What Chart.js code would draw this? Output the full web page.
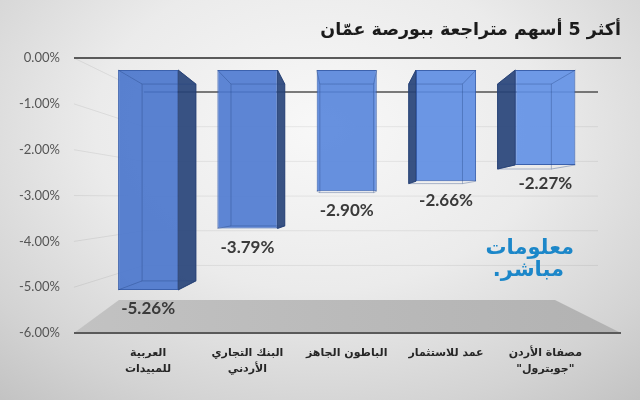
<!DOCTYPE html>
<html lang="ar">
<head>
<meta charset="utf-8">
<title>أكثر 5 أسهم متراجعة ببورصة عمّان</title>
<script src="https://cdn.jsdelivr.net/npm/chart.js@4.4.1/dist/chart.umd.min.js"></script>
<style>
    html, body { margin: 0; padding: 0; }
    body {
        width: 640px;
        height: 400px;
        overflow: hidden;
        position: relative;
        background: radial-gradient(ellipse 78% 90% at 50% 32%, #f8f8f8 0%, #ebebeb 45%, #d3d3d3 80%, #c2c2c2 100%);
    }
    #wrap { position: absolute; left: 0; top: 0; width: 640px; height: 400px; }
    .logo {
        position: absolute;
        color: #1c87c9;
        font-family: 'DejaVu Sans', sans-serif;
        font-weight: bold;
        font-size: 21px;
        direction: rtl;
        line-height: 1;
        white-space: nowrap;
    }
</style>
</head>
<body>
<div id="wrap"><canvas id="dropChart" width="640" height="400"></canvas></div>
<div class="logo" style="right: 66px; top: 237px;">معلومات</div>
<div class="logo" style="right: 76px; top: 259px;">مباشر.</div>

<script>
// ========================================
// DATA
// ========================================

const chartTitle = 'أكثر 5 أسهم متراجعة ببورصة عمّان';

const categories = [
    ['العربية', 'للمبيدات'],
    ['البنك التجاري', 'الأردني'],
    ['الباطون الجاهز'],
    ['عمد للاستثمار'],
    ['مصفاة الأردن', '"جوبترول"']
];

const changes = [-5.26, -3.79, -2.90, -2.66, -2.27];

const axisMin = -6;
const axisMax = 0;
const axisStep = 1;

// ========================================
// 3D LOOK (floor, back wall, bar sides)
// ========================================

const DEPTH = 0.895;          // how far the back face of a bar sits
const WALL_IN_LEFT = 70;
const WALL_IN_RIGHT = 23;
const FLOOR_IN_LEFT = 45;
const FLOOR_IN_RIGHT = 66;

function vanishing(chart) {
    return {
        x: chart.scales.x.getPixelForValue(2),
        y: chart.scales.yBar.getPixelForValue(-3.2)
    };
}

function back(p, v) {
    return { x: v.x + (p.x - v.x) * DEPTH, y: v.y + (p.y - v.y) * DEPTH };
}

function barBox(bar) {
    const half = bar.width / 2;
    return {
        l: bar.x - half,
        r: bar.x + half,
        t: Math.min(bar.y, bar.base),
        b: Math.max(bar.y, bar.base)
    };
}

function poly(ctx, pts) {
    ctx.beginPath();
    ctx.moveTo(pts[0].x, pts[0].y);
    for (let i = 1; i < pts.length; i++) ctx.lineTo(pts[i].x, pts[i].y);
    ctx.closePath();
}

const scenePlugin = {
    id: 'scene3d',
    beforeDraw(chart) {
        const { ctx, chartArea } = chart;
        const y = chart.scales.y;
        const yWall = chart.scales.yWall;
        const wallL = chartArea.left + WALL_IN_LEFT;
        const wallR = chartArea.right - WALL_IN_RIGHT;

        ctx.save();

        // floor
        const floorFront = y.getPixelForValue(axisMin);
        const floorBack = yWall.getPixelForValue(axisMin);
        const g = ctx.createLinearGradient(chartArea.left, 0, chartArea.right, 0);
        g.addColorStop(0, '#c2c2c2');
        g.addColorStop(1, '#b2b2b2');
        ctx.fillStyle = g;
        poly(ctx, [
            { x: chartArea.left, y: floorFront },
            { x: chartArea.right, y: floorFront },
            { x: chartArea.right - FLOOR_IN_RIGHT, y: floorBack },
            { x: chartArea.left + FLOOR_IN_LEFT, y: floorBack }
        ]);
        ctx.fill();

        // back wall and left side wall lines
        for (let v = axisMax; v > axisMin; v -= axisStep) {
            const yb = yWall.getPixelForValue(v);
            const yf = y.getPixelForValue(v);
            ctx.strokeStyle = 'rgba(0,0,0,0.07)';
            ctx.lineWidth = 1;
            ctx.beginPath();
            ctx.moveTo(chartArea.left, yf);
            ctx.lineTo(wallL, yb);
            ctx.stroke();

            ctx.strokeStyle = v === 0 ? '#505050' : 'rgba(0,0,0,0.07)';
            ctx.lineWidth = v === 0 ? 1.5 : 1;
            ctx.beginPath();
            ctx.moveTo(wallL, yb);
            ctx.lineTo(wallR, yb);
            ctx.stroke();
        }
        ctx.restore();
    },
    beforeDatasetsDraw(chart) {
        const { ctx } = chart;
        const v = vanishing(chart);
        const meta = chart.getDatasetMeta(0);
        ctx.save();
        meta.data.forEach(bar => {
            const f = barBox(bar);
            const bl = back({ x: f.l, y: f.t }, v);
            const br = back({ x: f.r, y: f.b }, v);
            // side face sticking out towards the centre of the picture
            ctx.fillStyle = 'rgba(40,68,122,0.92)';
            ctx.strokeStyle = 'rgba(35,60,110,0.9)';
            ctx.lineWidth = 1;
            if (br.x > f.r + 0.5) {
                poly(ctx, [{ x: f.r, y: f.t }, { x: br.x, y: bl.y }, { x: br.x, y: br.y }, { x: f.r, y: f.b }]);
                ctx.fill();
                ctx.stroke();
            } else if (bl.x < f.l - 0.5) {
                poly(ctx, [{ x: f.l, y: f.t }, { x: bl.x, y: bl.y }, { x: bl.x, y: br.y }, { x: f.l, y: f.b }]);
                ctx.fill();
                ctx.stroke();
            }
        });
        ctx.restore();
    },
    afterDatasetsDraw(chart) {
        const { ctx } = chart;
        const v = vanishing(chart);
        const meta = chart.getDatasetMeta(0);
        ctx.save();
        meta.data.forEach((bar, i) => {
            const f = barBox(bar);
            const bl = back({ x: f.l, y: f.t }, v);
            const br = back({ x: f.r, y: f.b }, v);

            // back edges seen through the glassy front
            ctx.strokeStyle = 'rgba(35,65,125,0.35)';
            ctx.lineWidth = 1;
            ctx.strokeRect(bl.x, bl.y, br.x - bl.x, br.y - bl.y);
            ctx.beginPath();
            ctx.moveTo(f.l, f.t); ctx.lineTo(bl.x, bl.y);
            ctx.moveTo(f.r, f.t); ctx.lineTo(br.x, bl.y);
            ctx.moveTo(f.l, f.b); ctx.lineTo(bl.x, br.y);
            ctx.moveTo(f.r, f.b); ctx.lineTo(br.x, br.y);
            ctx.stroke();

            // value label under the bar
            ctx.font = 'bold 17px Lato, "Open Sans", sans-serif';
            ctx.fillStyle = '#3a3a3a';
            ctx.textAlign = 'center';
            ctx.textBaseline = 'middle';
            ctx.fillText(changes[i].toFixed(2) + '%', bar.x, f.b + 19);
        });
        ctx.restore();
    }
};

// ========================================
// CHART
// ========================================

const barColors = [
    'rgba(72,116,204,0.9)',
    'rgba(76,121,208,0.9)',
    'rgba(86,133,220,0.9)',
    'rgba(92,140,226,0.9)',
    'rgba(96,144,230,0.9)'
];

const points = changes.map((val, i) => ({ x: i, y: val }));

new Chart(document.getElementById('dropChart'), {
    type: 'bar',
    data: {
        datasets: [{
            data: points,
            yAxisID: 'yBar',
            backgroundColor: barColors,
            borderColor: 'rgba(50,90,170,0.95)',
            borderWidth: 1,
            borderSkipped: false,
            categoryPercentage: 1,
            barPercentage: 0.605
        }]
    },
    options: {
        responsive: false,
        animation: false,
        layout: { padding: { left: 5, right: 19, top: 0, bottom: 11 } },
        plugins: {
            legend: { display: false },
            tooltip: { enabled: false },
            title: {
                display: true,
                text: chartTitle,
                align: 'end',
                color: '#1b1b1b',
                font: { family: '"DejaVu Sans", sans-serif', size: 17.5, weight: 'bold' },
                padding: { top: 20, bottom: 17 }
            }
        },
        scales: {
            x: {
                type: 'linear',
                offset: false,
                min: -0.747,
                max: 4.762,
                grid: { display: false, drawTicks: false },
                border: { display: false },
                ticks: {
                    stepSize: 1,
                    includeBounds: false,
                    autoSkip: false,
                    maxRotation: 0,
                    padding: 12,
                    color: '#262626',
                    font: { family: '"DejaVu Sans", sans-serif', size: 11, weight: 'bold', lineHeight: 1.45 },
                    callback: value => categories[value] || ''
                }
            },
            y: {
                min: axisMin,
                max: axisMax,
                grid: {
                    drawTicks: false,
                    lineWidth: 2,
                    color: c => (c.tick.value === axisMax || c.tick.value === axisMin) ? '#5a5a5a' : 'transparent'
                },
                border: { display: false },
                ticks: {
                    stepSize: axisStep,
                    padding: 14,
                    color: '#555555',
                    font: { family: 'Lato, "Open Sans", sans-serif', size: 13 },
                    callback: value => value.toFixed(2) + '%'
                }
            },
            yBar: {
                display: false,
                min: -6.292,
                max: 0.287
            },
            yWall: {
                display: false,
                min: -6.951,
                max: 0.981
            }
        }
    },
    plugins: [scenePlugin]
});
</script>
</body>
</html>
